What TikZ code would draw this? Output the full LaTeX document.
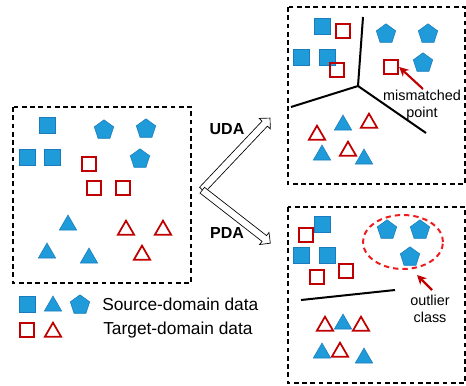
\documentclass[tikz,border=0pt]{standalone}
\usepackage{fontspec}
\setmainfont{Liberation Sans}
\usetikzlibrary{shapes.geometric,shapes.arrows,arrows.meta}
\definecolor{srcblue}{HTML}{1E9BD8}
\definecolor{srcedge}{HTML}{1A7CBC}
\definecolor{tgtred}{HTML}{C00000}
\definecolor{outred}{HTML}{EE1C1C}
\tikzset{
  bsq/.style={rectangle, fill=srcblue, draw=srcedge, line width=0.5pt, minimum size=11.8pt, inner sep=0pt},
  rsq/.style={rectangle, draw=tgtred, line width=1.3pt, minimum size=11pt, inner sep=0pt},
  btri/.style={regular polygon, regular polygon sides=3, fill=srcblue, draw=srcedge, line width=0.4pt, minimum size=15pt, inner sep=0pt},
  rtri/.style={regular polygon, regular polygon sides=3, draw=tgtred, line width=1.3pt, minimum size=14pt, inner sep=0pt},
  pent/.style={regular polygon, regular polygon sides=5, fill=srcblue, draw=srcedge, line width=0.4pt, minimum size=15.3pt, inner sep=0pt},
  dbox/.style={draw, dashed, line width=1pt, dash pattern=on 3.6pt off 2.6pt},
  sepline/.style={line width=1.5pt},
  hollowarrow/.style={single arrow, draw, fill=white, line width=0.5pt, inner xsep=0pt, inner ysep=2.5pt, single arrow head extend=3pt, anchor=tail},
  redarrow/.style={draw=tgtred, line width=1.6pt, -{Stealth[length=7pt,width=7pt]}},
  lbl/.style={font=\fontsize{10.8pt}{12.5pt}\selectfont, align=center, inner sep=0pt},
  legend/.style={font=\fontsize{13pt}{15pt}\selectfont, anchor=west, inner sep=0pt},
  bold/.style={font=\fontsize{12pt}{14pt}\selectfont\bfseries, inner sep=0pt}
}
\begin{document}
\begin{tikzpicture}[x=0.75pt,y=-0.75pt]
\useasboundingbox (0,0) rectangle (466,385);
% boxes
\draw[dbox] (13,107) rectangle (191,283);
\draw[dbox] (288,7) rectangle (465,184);
\draw[dbox] (288,207) rectangle (465,383);
% left box
\node[bsq] (l1) at (47,125) {};
\node[bsq] (l2) at (27,157) {};
\node[bsq] (l3) at (52,157) {};
\node[pent] (l4) at (104,130) {};
\node[pent] (l5) at (146,129) {};
\node[pent] (l6) at (140,159) {};
\node[rsq] (l7) at (89,164) {};
\node[rsq] (l8) at (94,188) {};
\node[rsq] (l9) at (123,188) {};
\node[btri] (l10) at (68,225) {};
\node[btri] (l11) at (47,253) {};
\node[btri] (l12) at (89,258) {};
\node[rtri] (l13) at (126,230) {};
\node[rtri] (l14) at (163,230) {};
\node[rtri] (l15) at (142,255) {};
% arrows
\coordinate (fork) at (202,190);
\node[hollowarrow, rotate=46.6, minimum height=74pt] (uda) at (fork) {};
\node[hollowarrow, rotate=-37.9, minimum height=64.7pt] (pda) at (fork) {};
\node[bold] (udat) at (227,129) {UDA};
\node[bold] (pdat) at (227,233) {PDA};
% top right box
\node[bsq] (u1) at (322,26) {};
\node[bsq] (u2) at (301,57) {};
\node[bsq] (u3) at (327,57) {};
\node[rsq] (u4) at (343,31) {};
\node[rsq] (u5) at (337,70) {};
\node[rsq] (u6) at (391,67) {};
\node[pent] (u7) at (386,34) {};
\node[pent] (u8) at (428,34) {};
\node[pent] (u9) at (423,63) {};
\node[rtri] (u10) at (317,135) {};
\node[rtri] (u11) at (369,123) {};
\node[rtri] (u12) at (348,151) {};
\node[btri] (u13) at (343,125) {};
\node[btri] (u14) at (322,155) {};
\node[btri] (u15) at (364,159) {};
\coordinate (uc) at (358,86);
\coordinate (ua) at (363,17);
\coordinate (ub) at (291,107);
\coordinate (ud) at (426,133);
\draw[sepline] (ua) -- (uc) -- (ub);
\draw[sepline] (uc) -- (ud);
\node[lbl] (mis) at (422,105) {mismatched\\point};
\coordinate (mistail) at (423,89);
\draw[redarrow] (mistail) -- (u6.east);
% bottom right box
\node[bsq] (p1) at (322,224) {};
\node[bsq] (p2) at (301,255) {};
\node[bsq] (p3) at (327,255) {};
\node[rsq] (p4) at (306,235) {};
\node[rsq] (p5) at (317,277) {};
\node[rsq] (p6) at (346,271) {};
\node[pent] (p7) at (387,230) {};
\node[pent] (p8) at (420,230) {};
\node[pent] (p9) at (410,257) {};
\node[ellipse, draw=outred, line width=1.5pt, dash pattern=on 4pt off 3pt, minimum width=60pt, minimum height=40.5pt, inner sep=0pt] (outl) at (403,242) {};
\coordinate (pl1) at (301,300);
\coordinate (pl2) at (395,290);
\draw[sepline] (pl1) -- (pl2);
\node[lbl] (outt) at (430,309) {outlier\\class};
\coordinate (outtail) at (432,290);
\draw[redarrow] (outtail) -- (417,275);
\node[rtri] (p10) at (325,326) {};
\node[rtri] (p11) at (361,326) {};
\node[rtri] (p12) at (340,352) {};
\node[btri] (p13) at (343,324) {};
\node[btri] (p14) at (322,353) {};
\node[btri] (p15) at (364,358) {};
% legend
\node[bsq] (g1) at (27,304) {};
\node[btri] (g2) at (53,306) {};
\node[pent] (g3) at (80,305) {};
\node[legend] (gs) at (102,304) {Source-domain data};
\node[rsq] (g4) at (27,330) {};
\node[rtri] (g5) at (53,332) {};
\node[legend] (gt) at (103,330) {Target-domain data};
\end{tikzpicture}
\end{document}
